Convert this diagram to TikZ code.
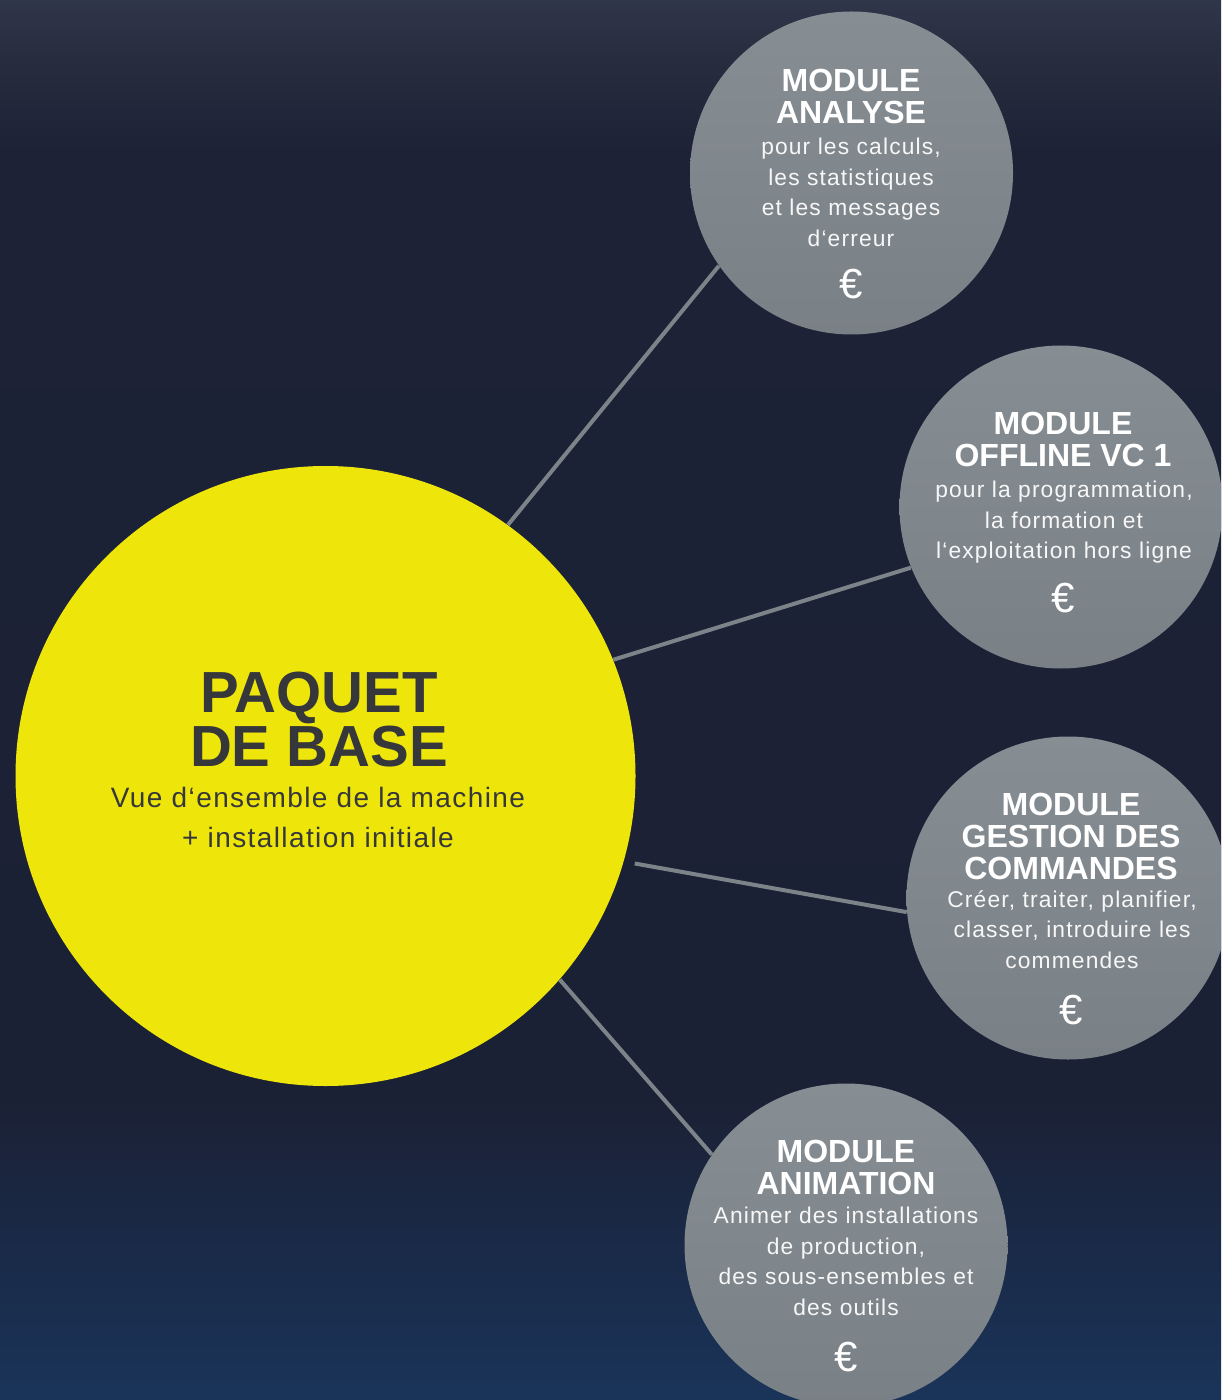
\documentclass[tikz,border=0pt]{standalone}
\usepackage{fontspec}
\setmainfont{Liberation Sans}
\newfontfamily\bodyfont[LetterSpace=5]{Liberation Sans}
\usetikzlibrary{calc}
\definecolor{bgtop}{HTML}{30364A}
\definecolor{bgtopb}{HTML}{272C3E}
\definecolor{bgmid}{HTML}{1D2236}
\definecolor{bgmidb}{HTML}{1B2135}
\definecolor{bglow}{HTML}{1A2A48}
\definecolor{bgbot}{HTML}{1A3459}
\definecolor{yel}{HTML}{EEE60B}
\definecolor{ytext}{HTML}{36373A}
\definecolor{modtop}{HTML}{878E93}
\definecolor{modbot}{HTML}{7A8186}
\definecolor{linec}{HTML}{7D8489}
\pgfdeclareverticalshading{bgshade}{100bp}{color(0bp)=(bgbot); color(25bp)=(bgbot); color(30.35bp)=(bglow); color(35.7bp)=(bgmidb); color(69.65bp)=(bgmid); color(72.85bp)=(bgtopb); color(75bp)=(bgtop); color(100bp)=(bgtop)}
\tikzset{
  modcircle/.style={circle, inner sep=0pt, minimum size=161.5pt, top color=modtop, bottom color=modbot, draw=none},
  basecircle/.style={circle, inner sep=0pt, minimum size=310pt, fill=yel, draw=none},
  modhead/.style={anchor=north, inner sep=0pt, align=center, text=white, font=\bfseries\fontsize{16}{16}\selectfont},
  modbody/.style={anchor=north, inner sep=0pt, align=center, text=white!94!gray, font=\bodyfont\fontsize{11.4}{15.25}\selectfont},
  modeuro/.style={anchor=center, inner sep=0pt, text=white, font=\fontsize{21}{21}\selectfont},
  basehead/.style={anchor=north, inner sep=0pt, align=center, text=ytext, font=\bfseries\fontsize{29}{24}\selectfont},
  basebody/.style={anchor=north, inner sep=0pt, align=center, text=ytext, font=\bodyfont\fontsize{14}{20}\selectfont},
  conn/.style={draw=linec, line width=2pt}
}
\begin{document}
\begin{tikzpicture}[x=0.5pt, y=-0.5pt]
\useasboundingbox (0,0) rectangle (1221,1400);
\clip (0,0) rectangle (1221,1400);
\shade[shading=bgshade] (0,0) rectangle (1221,1400);

% circles
\node[basecircle] (base) at (325.5,776) {};
\node[modcircle] (ana) at (851.5,173) {};
\node[modcircle] (off) at (1061,507) {};
\node[modcircle] (ges) at (1068,898) {};
\node[modcircle] (anim) at (846,1245) {};

% connectors
\draw[conn] (base.54.8) -- (ana.215.1);
\draw[conn] (base.22.1) -- (off.202.3);
\draw[conn, shorten <=5.5pt] (base.-16.9) -- (ges.185.7);
\draw[conn] (base.-41.8) -- (anim.146.3);

% base texts
\node[basehead] (bh) at (319,672) {PAQUET\\DE BASE};
\node[basebody] (bb) at (318,787) {Vue d‘ensemble de la machine\\+ installation initiale};

% analyse
\node[modhead] (anah) at (851,69) {MODULE\\ANALYSE};
\node[modbody] (anab) at (851,138) {pour les calculs,\\les statistiques\\et les messages\\d‘erreur};
\node[modeuro] (anae) at (851,284) {€};

% offline
\node[modhead] (offh) at (1063,412) {MODULE\\OFFLINE VC 1};
\node[modbody] (offb) at (1064,481) {pour la programmation,\\la formation et\\l‘exploitation hors ligne};
\node[modeuro] (offe) at (1063,598) {€};

% gestion
\node[modhead] (gesh) at (1071,793) {MODULE\\GESTION DES\\COMMANDES};
\node[modbody] (gesb) at (1072,890) {Créer, traiter, planifier,\\classer, introduire les\\commendes};
\node[modeuro] (gese) at (1071,1010) {€};

% animation
\node[modhead] (animh) at (846,1140) {MODULE\\ANIMATION};
\node[modbody] (animb) at (846,1207) {Animer des installations\\de production,\\des sous-ensembles et\\des outils};
\node[modeuro] (anime) at (846,1357) {€};
\end{tikzpicture}
\end{document}
